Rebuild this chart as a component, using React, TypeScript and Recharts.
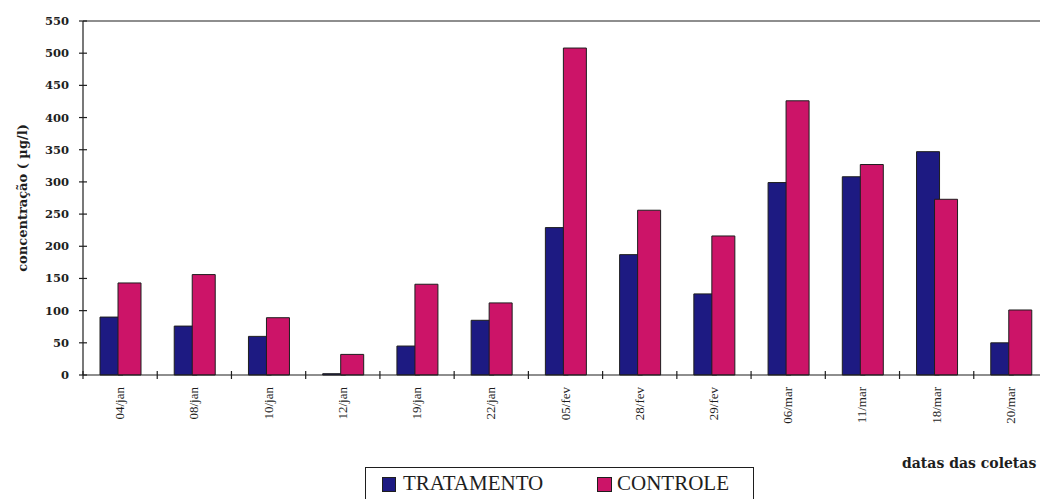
import { BarChart, Bar, XAxis, YAxis, ReferenceLine } from 'recharts'

const datas = ['04/jan', '08/jan', '10/jan', '12/jan', '19/jan', '22/jan', '05/fev', '28/fev', '29/fev', '06/mar', '11/mar', '18/mar', '20/mar']
const tratamento = [90, 76, 60, 2, 45, 85, 229, 187, 126, 299, 308, 347, 50]
const controle = [143, 156, 89, 32, 141, 112, 508, 256, 216, 426, 327, 273, 101]
const yTicks = [0, 50, 100, 150, 200, 250, 300, 350, 400, 450, 500, 550]

const AZUL = '#1d1a82'
const ROSA = '#cc1468'
const INK = '#1e1e1e'
const SERIF = '"Liberation Serif", "DejaVu Serif", serif'
const HEAVY = '"DejaVu Serif", serif'

const BAND = (1048 - 83) / datas.length

const data = datas.map((d, i) => ({ data: d, tratamento: tratamento[i], controle: controle[i] }))

// x tick: rotated date plus a cross mark on the band's left edge
const XTick = (props: any) => {
  const { x, y, payload, index } = props
  const left = x - BAND / 2
  return (
    <g>
      <line x1={left} x2={left} y1={y - 4} y2={y + 4} stroke={INK} strokeWidth={1.2} />
      {index === datas.length - 1 && (
        <line x1={left + BAND} x2={left + BAND} y1={y - 4} y2={y + 4} stroke={INK} strokeWidth={1.2} />
      )}
      <text
        transform={`translate(${x + 4},${y + 12}) rotate(-90)`}
        textAnchor="end"
        fontFamily={SERIF}
        fontSize={13}
        fill={INK}
      >
        {payload.value}
      </text>
    </g>
  )
}

const YTick = (props: any) => {
  const { x, y, payload } = props
  return (
    <g>
      <line x1={x - 4} x2={x + 4} y1={y} y2={y} stroke={INK} strokeWidth={1.2} />
      <text x={x - 14} y={y + 4} textAnchor="end" fontFamily={HEAVY} fontWeight="bold" fontSize={11.5} fill={INK}>
        {payload.value}
      </text>
    </g>
  )
}

export default function App() {
  return (
    <div style={{ position: 'absolute', left: 0, top: 0, width: 1040, height: 499, overflow: 'hidden', background: '#fff' }}>
      <BarChart
        width={1048}
        height={499}
        data={data}
        margin={{ top: 21, right: 0, bottom: 0, left: 0 }}
        barSize={23}
        barGap={-5}
      >
        <ReferenceLine y={550} stroke={INK} strokeWidth={1.2} />
        <XAxis
          dataKey="data"
          height={124}
          interval={0}
          tickLine={false}
          tickSize={0}
          tickMargin={0}
          stroke={INK}
          strokeWidth={1.2}
          tick={<XTick />}
        />
        <YAxis
          width={83}
          domain={[0, 550]}
          ticks={yTicks}
          interval={0}
          tickLine={false}
          tickSize={0}
          tickMargin={0}
          stroke={INK}
          strokeWidth={1.2}
          tick={<YTick />}
          label={{
            value: 'concentração ( µg/l)',
            angle: -90,
            position: 'insideLeft',
            dx: 17,
            dy: 0,
            style: { fontFamily: HEAVY, fontWeight: 'bold', fontSize: 13, fill: INK, textAnchor: 'middle' },
          }}
        />
        <Bar dataKey="tratamento" fill={AZUL} stroke={INK} strokeWidth={1} isAnimationActive={false} />
        <Bar dataKey="controle" fill={ROSA} stroke={INK} strokeWidth={1} isAnimationActive={false} />
      </BarChart>

      <div
        style={{
          position: 'absolute',
          left: 902,
          top: 455,
          fontFamily: HEAVY,
          fontWeight: 'bold',
          fontSize: 14,
          color: INK,
          whiteSpace: 'nowrap',
        }}
      >
        datas das coletas
      </div>

      <div
        style={{
          position: 'absolute',
          left: 365,
          top: 467,
          width: 389,
          height: 50,
          border: `1.5px solid ${INK}`,
          boxSizing: 'border-box',
          fontFamily: SERIF,
          fontWeight: 'normal',
          fontSize: 21,
          color: INK,
        }}
      >
        <div style={{ position: 'absolute', left: 16, top: 9, width: 14, height: 15, background: AZUL, border: `1px solid ${INK}`, boxSizing: 'border-box' }} />
        <div style={{ position: 'absolute', left: 37, top: 3, whiteSpace: 'nowrap' }}>TRATAMENTO</div>
        <div style={{ position: 'absolute', left: 231, top: 9, width: 15, height: 15, background: ROSA, border: `1px solid ${INK}`, boxSizing: 'border-box' }} />
        <div style={{ position: 'absolute', left: 251, top: 3, whiteSpace: 'nowrap' }}>CONTROLE</div>
      </div>
    </div>
  )
}
